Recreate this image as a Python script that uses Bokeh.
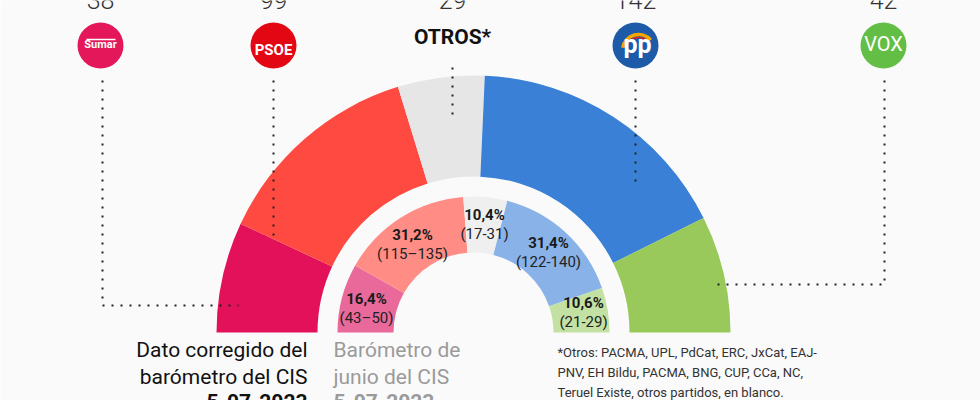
import math
from bokeh.plotting import figure
from bokeh.models import Range1d
from bokeh.core.properties import value
from bokeh.embed import file_html
from bokeh.resources import INLINE

# ---------------- data ----------------
parties = ["Sumar", "PSOE", "Otros", "PP", "Vox"]
seats = [38, 99, 29, 142, 42]                       # numbers above the logos
outer_share = [13.9, 26.6, 10.9, 33.9, 14.7]        # corrected estimate (arc sizes, %)
inner_share = [16.4, 31.2, 10.4, 31.4, 10.6]        # June CIS barometer (%)
inner_pct_labels = ["16,4%", "31,2%", "10,4%", "31,4%", "10,6%"]
inner_range_labels = ["(43\u201350)", "(115\u2013135)", "(17-31)", "(122-140)", "(21-29)"]

# ---------------- style / layout ----------------
outer_colors = ["#E2115A", "#FF4A42", "#E6E6E6", "#3A80D6", "#98C95A"]
inner_colors = ["#E8699A", "#FF8D85", "#EFEFEF", "#89B3E8", "#C3E1A3"]
logo_colors = ["#E3175A", "#E30613", None, "#1D5AA8", "#63BE45"]
BG = "#FAFAFA"
FONT = "Roboto"

W, H = 980, 400
def Y(ry):  # reference pixel row -> data y
    return 400 - ry

def T(ry, size):  # text baseline row -> data y (compensating renderer offset)
    return 400 - (ry - 0.42 * size)

CX, CY = 473, Y(332)
R_OUT_O, R_OUT_I = 257, 156
R_IN_O, R_IN_I = 136, 80

logo_x = [100, 273, 452, 635, 883]
logo_y = Y(45)

p = figure(width=W, height=H, x_range=Range1d(0, 980), y_range=Range1d(0, 400),
           toolbar_location=None, output_backend="svg", min_border=0,
           x_axis_location=None, y_axis_location=None)
p.grid.visible = False
p.outline_line_color = None
p.background_fill_color = BG
p.border_fill_color = BG


def angles(shares):
    total = float(sum(shares))
    starts, ends, c = [], [], 0.0
    for s in shares:
        starts.append(math.pi * (1 - c / total))
        c += s
        ends.append(math.pi * (1 - c / total))
    return starts, ends

s_o, e_o = angles(outer_share)
p.annular_wedge(x=CX, y=CY, inner_radius=R_OUT_I, outer_radius=R_OUT_O,
                start_angle=s_o, end_angle=e_o, direction="clock",
                fill_color=outer_colors, line_color=None)
s_i, e_i = angles(inner_share)
p.annular_wedge(x=CX, y=CY, inner_radius=R_IN_I, outer_radius=R_IN_O,
                start_angle=s_i, end_angle=e_i, direction="clock",
                fill_color=inner_colors, line_color=None)

# inner labels
lab_x = [366, 412, 484, 548, 583]
lab_y1 = [305, 241, 221, 249, 309]
p.text(x=lab_x, y=[T(v, 15) for v in lab_y1], text=inner_pct_labels,
       text_font=value(FONT), text_font_style="bold", text_font_size="15px",
       text_color="#1A1A1A", text_align="center", text_baseline="alphabetic")
p.text(x=lab_x, y=[T(v + 19, 15) for v in lab_y1], text=inner_range_labels,
       text_font=value(FONT), text_font_size="15px",
       text_color="#222222", text_align="center", text_baseline="alphabetic")

# dotted leader lines
lx = [[102, 102, 238], [273, 273], [452, 452], [635, 635], [884, 884, 715]]
ly = [[80, 305, 305], [80, 237], [67, 118], [80, 182], [80, 284, 284]]
p.multi_line(xs=lx, ys=[[Y(v) for v in l] for l in ly], line_color="#222222",
             line_width=2, line_dash="2 7")

# logos
lc_x = [logo_x[i] for i in range(5) if logo_colors[i]]
lc_c = [c for c in logo_colors if c]
p.circle(x=lc_x, y=logo_y, radius=23, fill_color=lc_c, line_color=None)
# Sumar
p.segment(x0=[86], y0=[Y(39)], x1=[115], y1=[Y(39)], line_color="white", line_width=1.5)
p.text(x=[100], y=[T(49, 11)], text=["Sumar"], text_font=value(FONT), text_font_style="bold",
       text_font_size="11px", text_color="white", text_align="center", text_baseline="alphabetic")
# PSOE
p.text(x=[273], y=[T(56, 15)], text=["PSOE"], text_font=value(FONT), text_font_style="bold",
       text_font_size="15px", text_color="white", text_align="center", text_baseline="alphabetic")
# PP
p.arc(x=[638], y=[Y(50)], radius=16, start_angle=math.radians(40), end_angle=math.radians(170),
      line_color="#F7A600", line_width=3.5)
p.arc(x=[638], y=[Y(50)], radius=13, start_angle=math.radians(45), end_angle=math.radians(160),
      line_color="#D7261E", line_width=1.5)
p.text(x=[637], y=[T(54, 25)], text=["pp"], text_font=value(FONT), text_font_style="bold",
       text_font_size="25px", text_color="white", text_align="center", text_baseline="alphabetic")
# VOX
p.text(x=[883], y=[T(52, 20)], text=["VOX"], text_font=value(FONT),
       text_font_size="20px", text_color="white", text_align="center", text_baseline="alphabetic")
# OTROS*
p.text(x=[452], y=[T(45, 21)], text=["OTROS*"], text_font=value(FONT), text_font_style="bold",
       text_font_size="21px", text_color="#111111", text_align="center", text_baseline="alphabetic")

# seat numbers (cut at the top)
p.text(x=logo_x, y=T(9, 25), text=[str(s) for s in seats], text_font=value("Roboto Light, Roboto"),
       text_font_size="25px", text_color="#333333", text_align="center", text_baseline="alphabetic")

# bottom captions
cap1 = ["Dato corregido del", "barómetro del CIS"]
p.text(x=[307, 307], y=[T(358, 21), T(385, 21)], text=cap1, text_font=value(FONT),
       text_font_size="21px", text_color="#111111", text_align="right", text_baseline="alphabetic")
p.text(x=[307], y=[T(410, 21)], text=["5-07-2023"], text_font=value(FONT), text_font_style="bold",
       text_font_size="21px", text_color="#111111", text_align="right", text_baseline="alphabetic")
cap2 = ["Barómetro de", "junio del CIS"]
p.text(x=[333, 333], y=[T(358, 21), T(385, 21)], text=cap2, text_font=value(FONT),
       text_font_size="21px", text_color="#9A9A9A", text_align="left", text_baseline="alphabetic")
p.text(x=[333], y=[T(410, 21)], text=["5-07-2023"], text_font=value(FONT), text_font_style="bold",
       text_font_size="21px", text_color="#9A9A9A", text_align="left", text_baseline="alphabetic")

foot = ["*Otros: PACMA, UPL, PdCat, ERC, JxCat, EAJ-",
        "PNV, EH Bildu, PACMA, BNG, CUP, CCa, NC,",
        "Teruel Existe, otros partidos, en blanco."]
p.text(x=[557] * 3, y=[T(357, 13), T(377, 13), T(397, 13)], text=foot, text_font=value(FONT),
       text_font_size="13px", text_color="#333333", text_align="left", text_baseline="alphabetic")

open("out.html", "w").write(file_html(p, INLINE))
